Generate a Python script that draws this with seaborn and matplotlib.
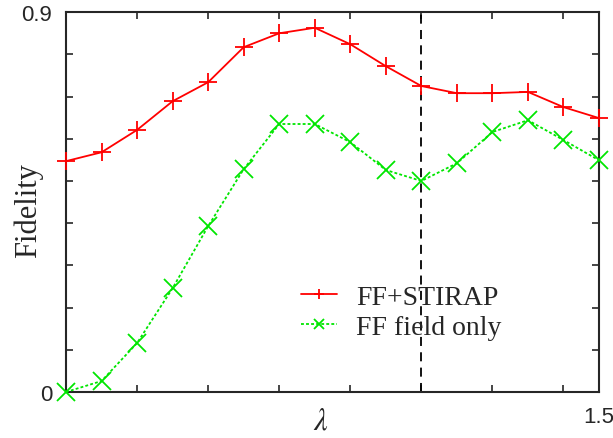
import numpy as np
import pandas as pd
import matplotlib
matplotlib.use("Agg")
import matplotlib.pyplot as plt
import seaborn as sns

# lambda values and fidelities
lam = [0.0, 0.1, 0.2, 0.3, 0.4, 0.5, 0.6, 0.7, 0.8, 0.9, 1.0, 1.1, 1.2, 1.3, 1.4, 1.5]
fid_stirap = [0.547, 0.568, 0.621, 0.689, 0.734, 0.817, 0.850, 0.863,
              0.824, 0.772, 0.725, 0.708, 0.708, 0.711, 0.675, 0.649]
fid_ff_only = [0.000, 0.026, 0.116, 0.246, 0.393, 0.528, 0.635, 0.635,
               0.592, 0.526, 0.500, 0.542, 0.616, 0.644, 0.597, 0.549]
series_names = ["FF+STIRAP", "FF field only"]
x_ticklabels = ["0", "1.5"]
y_ticklabels = ["0", "0.9"]

df = pd.DataFrame({
    "lam": lam + lam,
    "fid": fid_stirap + fid_ff_only,
    "series": [series_names[0]] * len(lam) + [series_names[1]] * len(lam),
})

sns.set_style("ticks")
plt.rcParams["font.family"] = ["Liberation Sans", "DejaVu Sans"]
plt.rcParams["mathtext.fontset"] = "stix"

fig = plt.figure(figsize=(6.13, 4.39), dpi=100)
ax = fig.add_axes([0.1077, 0.1048, 0.8695, 0.8652])

sns.lineplot(data=df, x="lam", y="fid", hue="series", style="series", ax=ax,
             palette={series_names[0]: "#ff0000", series_names[1]: "#00e600"},
             markers={series_names[0]: "+", series_names[1]: "x"},
             dashes={series_names[0]: "", series_names[1]: (1.6, 1.2)},
             lw=1.3, markersize=13, markeredgewidth=1.3)
# seaborn draws marker edges white by default; use the line colour instead
for line in ax.lines:
    line.set_markeredgecolor(line.get_color())
    line.set_clip_on(False)
    line.set_zorder(3)

ax.axvline(1.0, color="black", lw=1.3, linestyle=(0, (5, 3.5)))

ax.set_xlim(0, 1.5)
ax.set_ylim(0, 0.9)
ax.set_xticks(np.arange(0, 1.51, 0.2))
ax.set_xticklabels([""] * len(ax.get_xticks()))
ax.set_xticks([0, 1.5], minor=True)
ax.set_xticklabels(x_ticklabels, minor=True)
ax.set_yticks(np.arange(0, 0.91, 0.1))
ax.set_yticklabels([y_ticklabels[0]] + [""] * 8 + [y_ticklabels[1]])
ax.tick_params(axis="both", which="major", direction="in", length=5, width=1.2,
               top=True, right=True, pad=10, labelsize=16)
ax.tick_params(axis="x", which="minor", length=0, pad=10, labelsize=16)
for s in ax.spines.values():
    s.set_linewidth(1.5)
    s.set_visible(True)

ax.set_ylabel("Fidelity", fontsize=22, family="Liberation Serif")
ax.yaxis.set_label_coords(-0.043, 0.48)
ax.set_xlabel(r"$\lambda$", fontsize=22)
ax.xaxis.set_label_coords(0.477, -0.035)

leg = ax.legend(loc="center left", bbox_to_anchor=(0.44, 0.21), frameon=False,
                prop={"family": "Liberation Serif", "size": 20},
                handlelength=1.3, handletextpad=0.7, labelspacing=0.15,
                borderpad=0, borderaxespad=0, markerscale=0.6)
for h in leg.legend_handles:
    h.set_markeredgecolor(h.get_color())

fig.savefig("out.png", dpi=100)
